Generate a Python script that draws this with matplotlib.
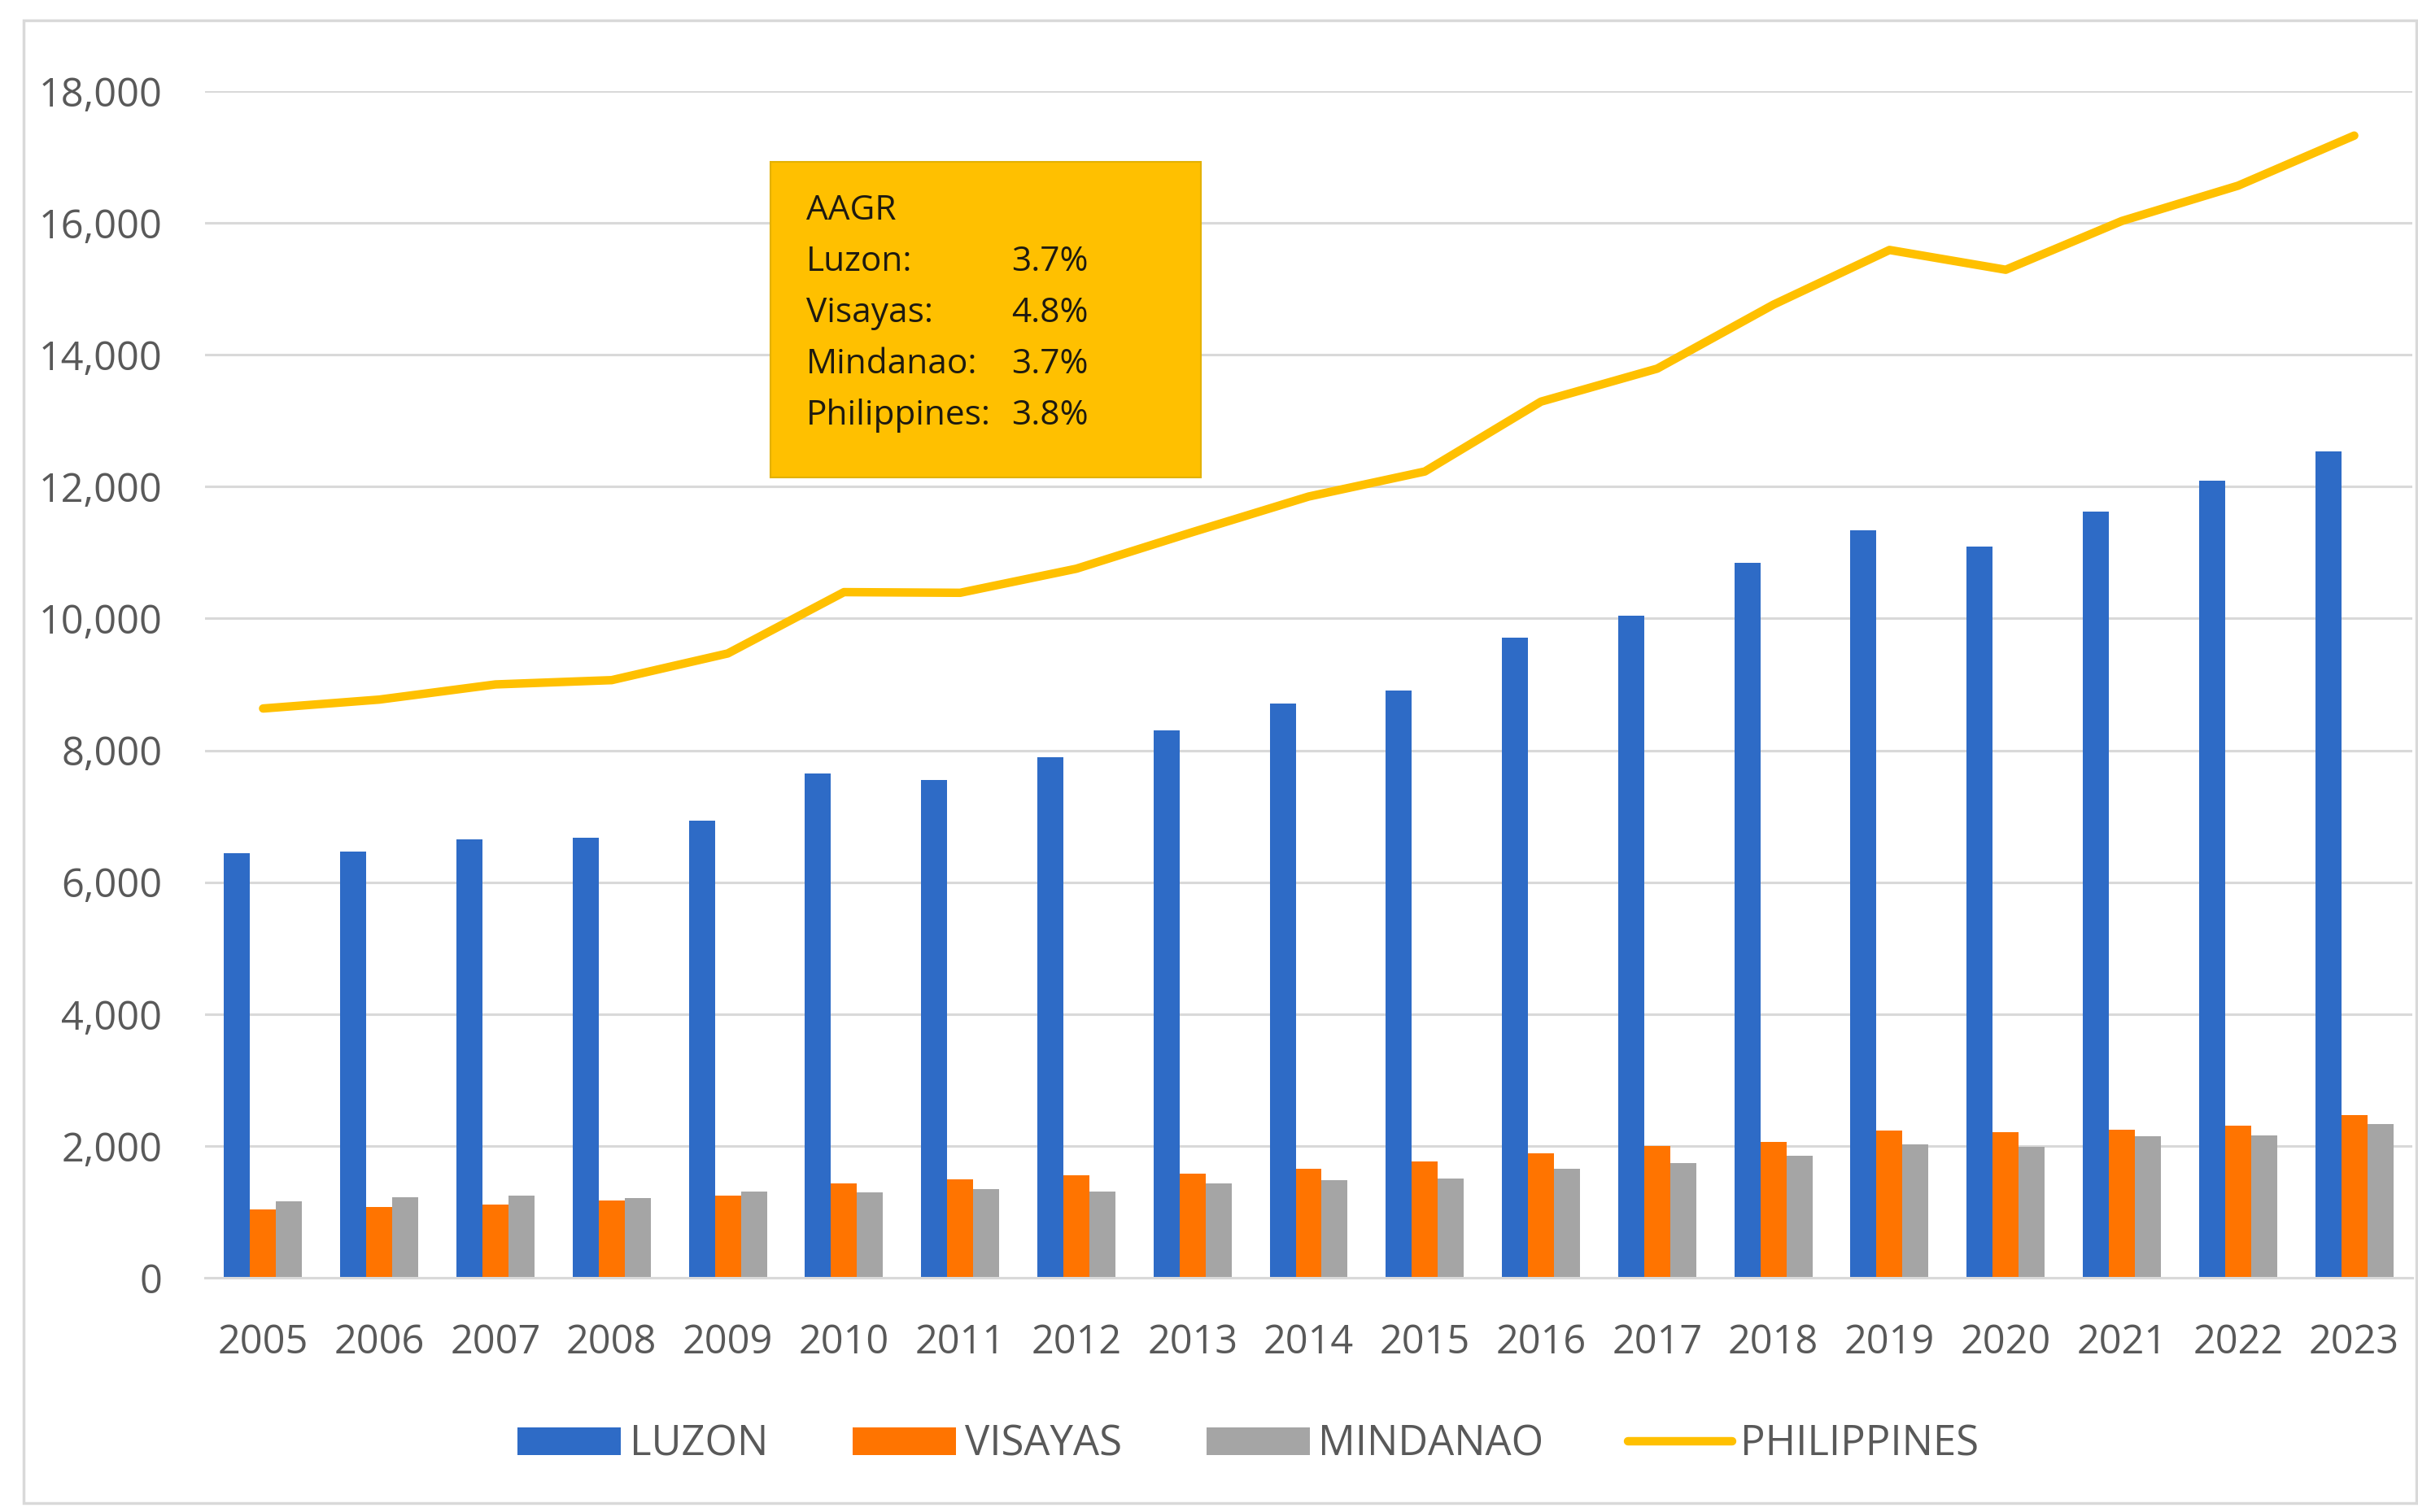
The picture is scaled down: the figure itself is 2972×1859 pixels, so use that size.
import matplotlib
matplotlib.use("Agg")
import matplotlib.pyplot as plt
import numpy as np
from matplotlib.patches import Rectangle
from matplotlib.ticker import FuncFormatter

plt.rcParams['font.family'] = ['Open Sans', 'DejaVu Sans']

# yearly values by island group
years = ['2005', '2006', '2007', '2008', '2009', '2010', '2011', '2012', '2013', '2014',
         '2015', '2016', '2017', '2018', '2019', '2020', '2021', '2022', '2023']
luzon = [6440, 6460, 6650, 6680, 6930, 7650, 7545, 7895, 8305, 8715,
         8905, 9710, 10045, 10850, 11340, 11090, 11620, 12095, 12530]
visayas = [1035, 1075, 1110, 1170, 1240, 1435, 1490, 1560, 1575, 1655,
           1760, 1890, 2000, 2060, 2230, 2205, 2245, 2310, 2465]
mindanao = [1160, 1220, 1240, 1210, 1305, 1295, 1345, 1305, 1430, 1480,
            1510, 1655, 1745, 1855, 2020, 1990, 2150, 2155, 2330]
philippines = [8635, 8770, 9000, 9065, 9470, 10400, 10390, 10755, 11310, 11850,
               12230, 13290, 13790, 14760, 15590, 15290, 16030, 16565, 17325]

aagr_names = ['Luzon:', 'Visayas:', 'Mindanao:', 'Philippines:']
aagr_vals = ['3.7%', '4.8%', '3.7%', '3.8%']

blue = '#2E6BC6'
orange = '#FF7400'
gray = '#A5A5A5'
gold = '#FFC000'
text_col = '#595959'
grid_col = '#D9D9D9'

fig = plt.figure(figsize=(29.72, 18.59), dpi=100)
ax = fig.add_axes([252 / 2972, 1 - 1571 / 1859, 2713 / 2972, 1459 / 1859])

x = np.arange(len(years))
w = 0.224
ax.bar(x - w, luzon, w, color=blue, label='LUZON', zorder=2)
ax.bar(x, visayas, w, color=orange, label='VISAYAS', zorder=2)
ax.bar(x + w, mindanao, w, color=gray, label='MINDANAO', zorder=2)
ax.plot(x, philippines, color=gold, lw=7.5, solid_capstyle='round',
        solid_joinstyle='round', label='PHILIPPINES', zorder=3)

ax.set_xlim(-0.5, len(years) - 0.5)
ax.set_ylim(0, 18000)
ax.set_yticks(np.arange(0, 18001, 2000))
ax.yaxis.set_major_formatter(FuncFormatter(lambda v, p: f'{int(v):,}'))
ax.set_xticks(x)
ax.set_xticklabels(years)
ax.grid(axis='y', color=grid_col, lw=2.2, zorder=0)
ax.set_axisbelow(True)
for s in ['top', 'right', 'left']:
    ax.spines[s].set_visible(False)
ax.spines['bottom'].set_color(grid_col)
ax.spines['bottom'].set_linewidth(2.2)
ax.tick_params(axis='y', length=0, pad=38, labelsize=35, labelcolor=text_col)
ax.tick_params(axis='x', length=0, pad=40, labelsize=35, labelcolor=text_col)

# legend along the bottom
handles, labels = ax.get_legend_handles_labels()
order = [1, 2, 3, 0]
leg = fig.legend([handles[i] for i in order], [labels[i] for i in order],
                 loc='center', bbox_to_anchor=(1534 / 2972, 1 - 1776 / 1859),
                 ncol=4, frameon=False, fontsize=36.5, handlelength=2.52,
                 handleheight=0.66, handletextpad=0.2, columnspacing=2.05)
for t in leg.get_texts():
    t.set_color(text_col)

# AAGR box
fig.patches.append(Rectangle((947 / 2972, 1 - 587 / 1859), 529 / 2972, 388 / 1859,
                             transform=fig.transFigure, facecolor=gold,
                             edgecolor='#E3B100', lw=1.5, zorder=5))
fig.text(991 / 2972, 1 - 270 / 1859, 'AAGR', fontsize=30.5, color='#1E1A10',
         va='baseline', ha='left', zorder=6)
for i, (n, v) in enumerate(zip(aagr_names, aagr_vals)):
    yb = 1 - (333 + 63 * i) / 1859
    fig.text(991 / 2972, yb, n, fontsize=30.5, color='#1E1A10',
             va='baseline', ha='left', zorder=6)
    fig.text(1243 / 2972, yb, v, fontsize=30.5, color='#1E1A10',
             va='baseline', ha='left', zorder=6)

# chart frame
fig.patches.append(Rectangle((29 / 2972, 1 - 1848 / 1859), 2941 / 2972, 1823 / 1859,
                             transform=fig.transFigure, facecolor='none',
                             edgecolor=grid_col, lw=2.5, zorder=1))

fig.savefig('out.png', dpi=100)
